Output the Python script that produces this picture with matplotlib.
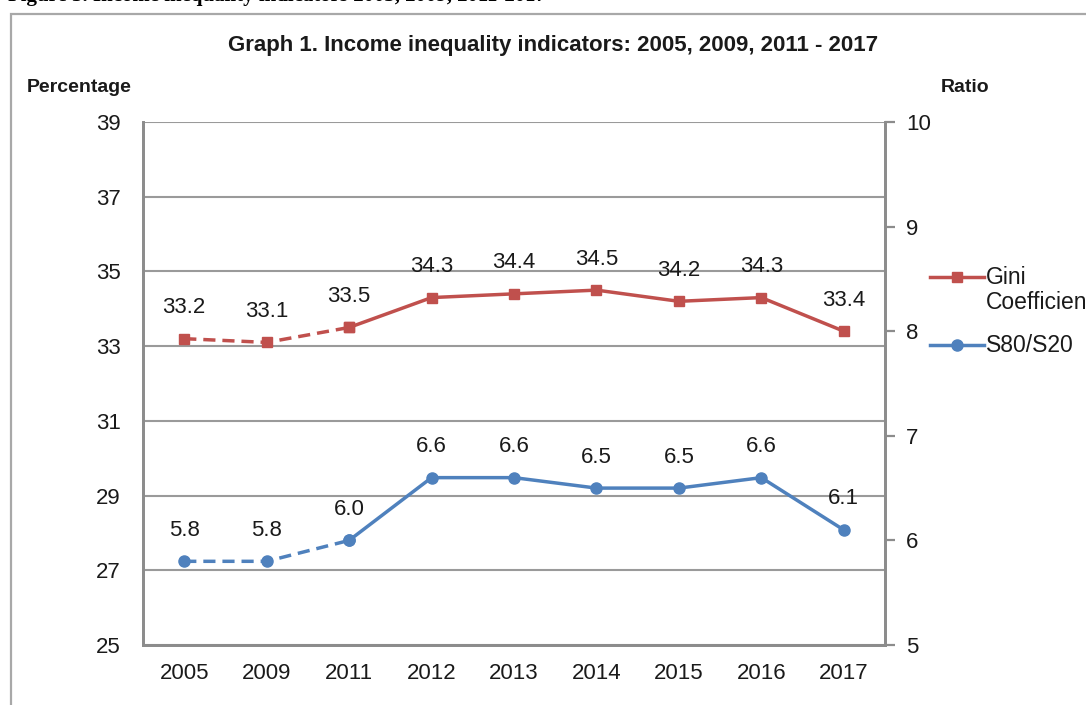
import numpy as np
import matplotlib
matplotlib.use('Agg')
from matplotlib import pyplot as plt
from matplotlib.patches import Rectangle
from matplotlib.lines import Line2D

plt.rcParams['font.family'] = ['Liberation Sans', 'DejaVu Sans']

# 数据
years = ['2005', '2009', '2011', '2012', '2013', '2014', '2015', '2016', '2017']
gini = [33.2, 33.1, 33.5, 34.3, 34.4, 34.5, 34.2, 34.3, 33.4]
s80s20 = [5.8, 5.8, 6.0, 6.6, 6.6, 6.5, 6.5, 6.6, 6.1]
dash_end = 2  # 2005-2011 用虚线

red = '#C0504D'
blue = '#4F81BD'
grey = '#9a9a9a'
txt = '#1a1a1a'

W, H = 1086, 705
fig = plt.figure(figsize=(W / 100, H / 100), dpi=100)

# 外框 + 顶部被裁掉的标题
fig.add_artist(Rectangle((11 / W, -0.1), 1.2, 1 - 14 / H + 0.1, transform=fig.transFigure,
                         fill=False, edgecolor='#a8a8a8', linewidth=1.6, clip_on=False))
fig.text(8 / W, 1 - 1 / H, 'Figure 3. Income inequality indicators 2005, 2009, 2011-2017',
         family=['Liberation Serif'], fontweight='bold', fontsize=15, va='baseline', ha='left',
         color='black')

ax = fig.add_axes([143 / W, 1 - 645 / H, (885 - 143) / W, (645 - 122) / H])
ax2 = ax.twinx()

x = np.arange(len(years))

# Gini, 左轴
ax.plot(x[:dash_end + 1], gini[:dash_end + 1], color=red, lw=2.5, ls=(0, (3.5, 2)),
        marker='s', ms=7.5, zorder=3)
ax.plot(x[dash_end:], gini[dash_end:], color=red, lw=2.5, marker='s', ms=7.5, zorder=3)
for xi, v in zip(x, gini):
    ax.annotate('%.1f' % v, (xi, v), xytext=(0, 31), textcoords='offset pixels',
                ha='center', va='center', fontsize=16, color=txt)

# S80/S20, 右轴
ax2.plot(x[:dash_end + 1], s80s20[:dash_end + 1], color=blue, lw=2.5, ls=(0, (3.5, 2)),
         marker='o', ms=8, zorder=3)
ax2.plot(x[dash_end:], s80s20[dash_end:], color=blue, lw=2.5, marker='o', ms=8, zorder=3)
for xi, v in zip(x, s80s20):
    ax2.annotate('%.1f' % v, (xi, v), xytext=(0, 31), textcoords='offset pixels',
                 ha='center', va='center', fontsize=16, color=txt)

ax.set_xlim(-0.5, len(years) - 0.5)
ax.set_ylim(25, 39)
ax.set_yticks(np.arange(25, 40, 2))
ax2.set_ylim(5, 10)
ax2.set_yticks(np.arange(5, 11, 1))
ax.set_xticks(x)
ax.set_xticklabels(years)

ax.grid(axis='y', color=grey, lw=1.5)
ax.set_axisbelow(True)
for a in (ax, ax2):
    for s in a.spines.values():
        s.set_color('#8c8c8c')
        s.set_linewidth(2)
    a.spines['top'].set_visible(False)
ax.tick_params(axis='y', length=0, pad=16, labelsize=16, labelcolor=txt)
ax.tick_params(axis='x', length=0, pad=13, labelsize=16, labelcolor=txt)
ax2.tick_params(axis='y', length=7, width=1.6, color='#8c8c8c', pad=8, labelsize=16,
                labelcolor=txt)

# 标题和轴名
fig.text(553 / W, 1 - 46 / H, 'Graph 1. Income inequality indicators: 2005, 2009, 2011 - 2017',
         family=['Liberation Sans Narrow', 'Liberation Sans'], fontweight='bold', fontsize=16,
         ha='center', va='center', color=txt)
fig.text(27 / W, 1 - 88 / H, 'Percentage', fontweight='bold', fontsize=14, ha='left',
         va='center', color=txt)
fig.text(965 / W, 1 - 88 / H, 'Ratio', fontweight='bold', fontsize=14, ha='center',
         va='center', color=txt)

# 图例 (手动摆放，句柄对齐第一行文字)
legend_items = [('Gini\nCoefficient', red, 's', 7.5, 277), ('S80/S20', blue, 'o', 8, 345)]
for label, c, m, ms, yy in legend_items:
    fy = 1 - yy / H
    fig.add_artist(Line2D([930 / W, 984 / W], [fy, fy], transform=fig.transFigure,
                          color=c, lw=2.5))
    fig.add_artist(Line2D([957 / W], [fy], transform=fig.transFigure, color=c,
                          marker=m, ms=ms, lw=0))
    fig.text(986 / W, fy + 11 / H, label, fontsize=16.5, ha='left', va='top', color=txt,
             linespacing=1.1)

fig.savefig('out.png', dpi=100)
